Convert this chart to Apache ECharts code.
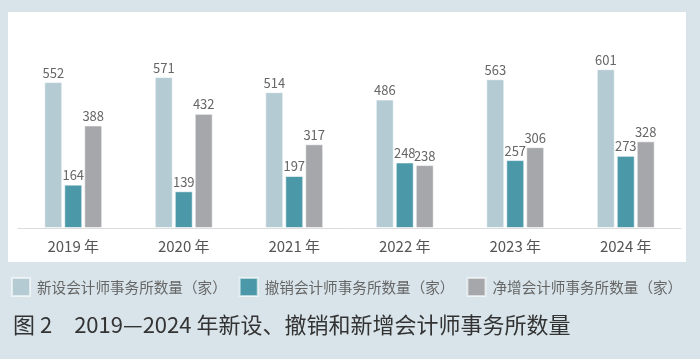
<!DOCTYPE html>
<html><head><meta charset="utf-8">
<script src="https://cdn.jsdelivr.net/npm/echarts@6/dist/echarts.min.js"></script>
<style>html,body{margin:0;padding:0;background:#d8e4ea;}#c{width:700px;height:359px;}</style>
</head><body><div id="c"></div>
<script>
const categories = ['2019 年','2020 年','2021 年','2022 年','2023 年','2024 年'];
const newFirms = [552,571,514,486,563,601];
const revokedFirms = [164,139,197,248,257,273];
const netFirms = [388,432,317,238,306,328];
const seriesNames = ['新设会计师事务所数量（家）','撤销会计师事务所数量（家）','净增会计师事务所数量（家）'];
const colors = ['#b4cbd3','#4a98a8','#a6a7ab'];
const font = '"Noto Sans CJK SC","Noto Sans",sans-serif';
const chart = echarts.init(document.getElementById('c'), null, {renderer:'canvas'});
const mk = (i, data) => ({
  name: seriesNames[i], type:'bar', data, barWidth:18, barGap:'11%',
  itemStyle:{color:colors[i], borderColor:'rgba(255,255,255,0.6)', borderWidth:1},
  label:{show:true, position:'top', distance:3, color:'#666', fontSize:13, fontFamily:font}
});
chart.setOption({
  backgroundColor:'#d8e4ea',
  animation:false,
  graphic:[{type:'rect', shape:{x:8,y:12,width:678,height:250}, style:{fill:'#ffffff'}, z:-10, silent:true}],
  title:{text:'图 2　2019—2024 年新设、撤销和新增会计师事务所数量', left:8, top:309,
    textStyle:{color:'#333', fontSize:22, fontWeight:'normal', fontFamily:font}},
  legend:{left:11, top:277, width:689, padding:0, itemWidth:18, itemHeight:18, itemGap:12, icon:'rect',
    textStyle:{color:'#666', fontSize:14.6, fontFamily:font, padding:[0,0,0,2]},
    data:seriesNames},
  grid:{left:18, right:19, top:43, bottom:131},
  xAxis:{type:'category', data:categories,
    axisLine:{lineStyle:{color:'#dcdcdc', width:1}}, axisTick:{show:false},
    axisLabel:{color:'#555', fontSize:15, fontFamily:font, margin:11}},
  yAxis:{type:'value', min:0, max:700, show:false, splitLine:{show:false}},
  series:[mk(0,newFirms), mk(1,revokedFirms), mk(2,netFirms)]
});
</script></body></html>
